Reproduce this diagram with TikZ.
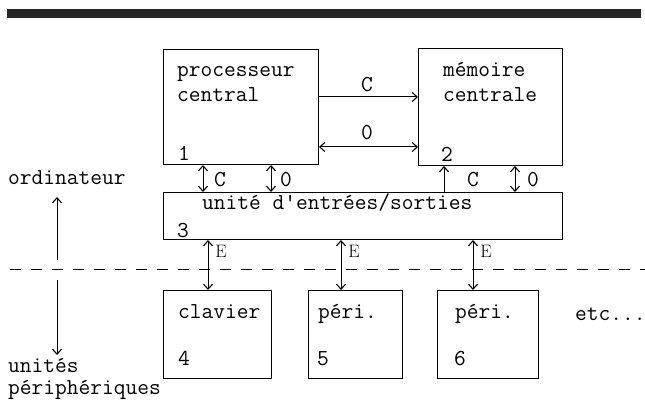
\documentclass[tikz,border=0pt]{standalone}
\usepackage{fontspec}
\usetikzlibrary{arrows.meta}
\begin{document}
\begin{tikzpicture}[x=1pt,y=-1pt,
  font=\ttfamily\fontsize{22.8}{25}\selectfont,
  box/.style={draw, line width=1pt, anchor=north west, inner sep=0pt},
  txt/.style={anchor=base west, inner sep=0pt},
  lbl/.style={inner sep=0pt},
  elbl/.style={inner sep=0pt, font=\rmfamily\fontsize{18}{18}\selectfont},
  tip/.tip={Straight Barb[length=5pt,width=9pt,line width=1.1pt]},
  arr/.style={line width=1pt, -tip},
  darr/.style={line width=1pt, tip-tip}]
\useasboundingbox (0,0) rectangle (645,406);
% top band
\fill[black!85] (7,9) rectangle (641,18);
% boxes
\node[box, minimum width=155pt, minimum height=115pt] (proc) at (163,49) {};
\node[box, minimum width=144pt, minimum height=117pt] (mem) at (418,48) {};
\node[box, minimum width=399pt, minimum height=47pt] (io) at (163,192) {};
\node[box, minimum width=108pt, minimum height=88pt] (p4) at (163,290) {};
\node[box, minimum width=94pt, minimum height=88pt] (p5) at (308,290) {};
\node[box, minimum width=101pt, minimum height=88pt] (p6) at (437,290) {};
% texts
\node[txt] (tp1) at (177,77) {processeur};
\node[txt] (tp2) at (177,102) {central};
\node[txt] (n1) at (178,161) {1};
\node[txt] (tm1) at (443,77) {mémoire};
\node[txt] (tm2) at (443,102) {centrale};
\node[txt] (n2) at (441,162) {2};
\node[txt] (tio) at (202,210) {unité d'entrées/sorties};
\node[txt] (n3) at (177,237) {3};
\node[txt] (t4) at (178,318) {clavier};
\node[txt] (n4) at (178,365) {4};
\node[txt] (t5) at (318,318) {péri.};
\node[txt] (n5) at (317,365) {5};
\node[txt] (t6) at (455,318) {péri.};
\node[txt] (n6) at (454,365) {6};
\node[txt] (etc) at (575,320) {etc...};
\node[txt] (ord) at (8,185) {ordinateur};
\node[txt] (up1) at (8,372) {unités};
\node[txt] (up2) at (8,394) {périphériques};
% proc - mem
\draw[arr] ([yshift=-48pt]proc.north east) -- ([yshift=-48pt]proc.north east -| mem.west);
\node[lbl] (lc1) at (367,85) {C};
\draw[darr] ([yshift=-98pt]proc.north east) -- ([yshift=-98pt]proc.north east -| mem.west);
\node[lbl] (lo1) at (367,133) {0};
% proc - io
\draw[darr] ([xshift=40pt]proc.south west) -- ([xshift=40pt]io.north west);
\node[lbl] (lc2) at (220,180) {C};
\draw[darr] ([xshift=108pt]proc.south west) -- ([xshift=108pt]io.north west);
\node[lbl] (lo2) at (286,180) {0};
% mem - io
\draw[arr] ([xshift=281pt]io.north west) -- ([xshift=26pt]mem.south west);
\node[lbl] (lc3) at (473,180) {C};
\draw[darr] ([xshift=97pt]mem.south west) -- ([xshift=352pt]io.north west);
\node[lbl] (lo3) at (533,180) {0};
% io - peripherals
\draw[darr] ([xshift=45pt]io.south west) -- ([xshift=45pt]p4.north west);
\draw[darr] ([xshift=178pt]io.south west) -- ([xshift=33pt]p5.north west);
\draw[darr] ([xshift=310pt]io.south west) -- ([xshift=36pt]p6.north west);
\node[elbl] (e1) at (221,251) {E};
\node[elbl] (e2) at (354,251) {E};
\node[elbl] (e3) at (486,251) {E};
% dashed separator
\coordinate (dl) at (10,269);
\coordinate (dr) at (645,269);
\draw[line width=1pt, dash pattern=on 11pt off 10pt] (dl) -- (dr);
% side arrows
\coordinate (ua) at (57,260);
\coordinate (ub) at (57,197);
\coordinate (da) at (57,280);
\coordinate (db) at (57,355);
\draw[arr] (ua) -- (ub);
\draw[arr] (da) -- (db);
\end{tikzpicture}
\end{document}
